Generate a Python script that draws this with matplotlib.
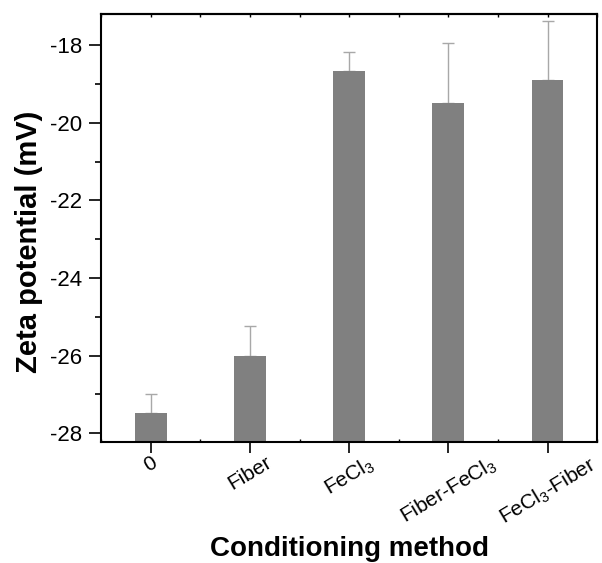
import matplotlib
matplotlib.use("Agg")
import matplotlib.pyplot as plt
from matplotlib.ticker import MultipleLocator

plt.rcParams['font.family'] = ['Liberation Sans', 'DejaVu Sans']
plt.rcParams['mathtext.fontset'] = 'custom'
plt.rcParams['mathtext.rm'] = 'Liberation Sans'
plt.rcParams['axes.unicode_minus'] = False

# dane
methods = ['0', 'Fiber', 'FeCl$_\\mathregular{3}$', 'Fiber-FeCl$_\\mathregular{3}$',
           'FeCl$_\\mathregular{3}$-Fiber']
zeta = [-27.48, -26.01, -18.66, -19.48, -18.89]
err = [0.49, 0.77, 0.50, 1.54, 1.51]

base = -29.0
x = list(range(len(methods)))

fig = plt.figure(figsize=(6.02, 5.63), dpi=100)
ax = fig.add_axes([0.168, 0.215, 0.824, 0.760])

ax.bar(x, [v - base for v in zeta], bottom=base, width=0.32, color='#808080',
       zorder=2)
ax.errorbar(x, zeta, yerr=[[0] * len(err), err], fmt='none', ecolor='#a8a8a8',
            elinewidth=1.0, capsize=4.2, capthick=1.0, zorder=1)

ax.set_xlim(-0.5, 4.5)
ax.set_ylim(-28.23, -17.19)

ax.set_xticks(x)
ax.set_xticklabels(methods, rotation=31, ha='center', fontsize=15)
ax.xaxis.set_minor_locator(MultipleLocator(0.5))
ax.yaxis.set_major_locator(MultipleLocator(2))
ax.yaxis.set_minor_locator(MultipleLocator(1))

ax.tick_params(axis='y', which='major', direction='out', length=8.5, width=1.2,
               labelsize=16, pad=5)
ax.tick_params(axis='y', which='minor', direction='out', length=4.5, width=1.2)
ax.tick_params(axis='x', which='major', direction='out', length=8, width=1.2,
               pad=0)
ax.tick_params(axis='x', which='minor', direction='in', length=2, width=1.0)

# male kreski na gornej osi
top = ax.secondary_xaxis('top')
top.xaxis.set_major_locator(MultipleLocator(0.5))
top.tick_params(direction='in', length=2, width=1.0, labeltop=False)

for s in ax.spines.values():
    s.set_linewidth(1.5)
top.spines['top'].set_linewidth(1.5)

ax.set_xlabel('Conditioning method', fontsize=20, fontweight='bold', labelpad=5)
ax.set_ylabel('Zeta potential (mV)', fontsize=21, fontweight='bold', labelpad=5)
ax.yaxis.label.set_y(0.467)

plt.savefig('out.png', dpi=100)
